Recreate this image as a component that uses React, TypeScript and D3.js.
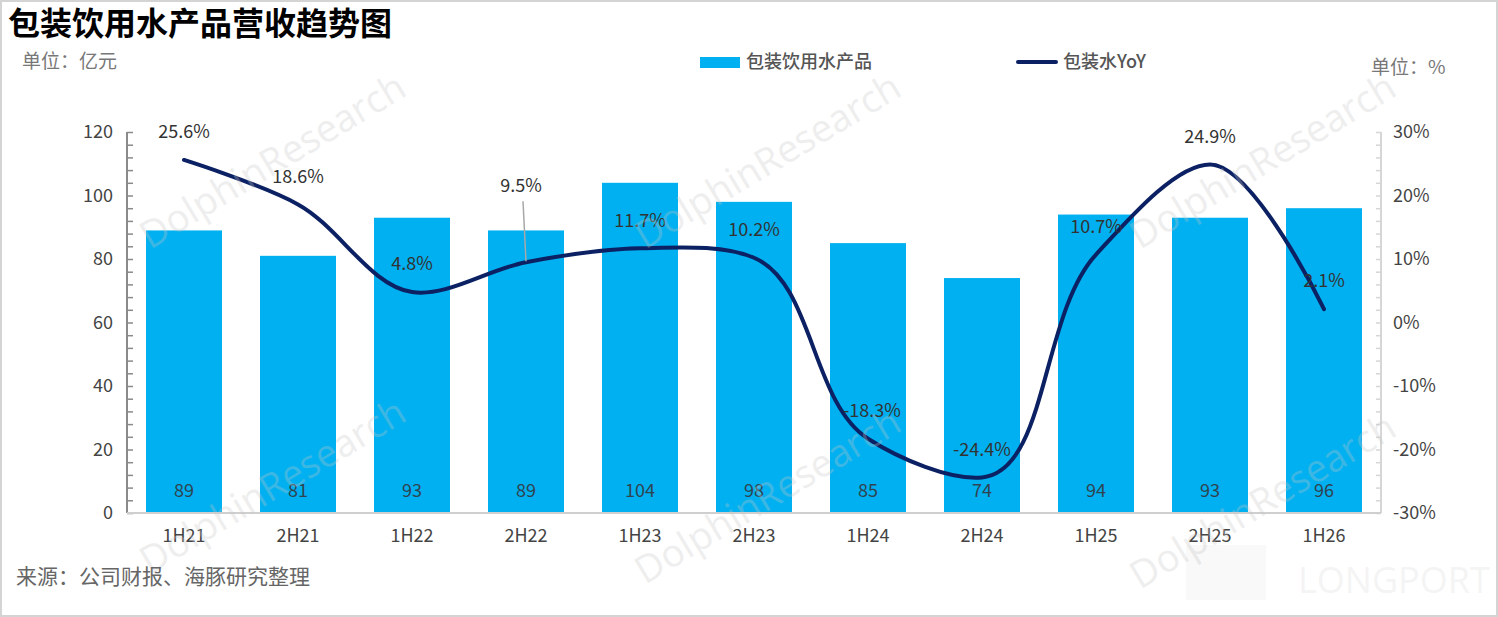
import * as d3 from "d3";
import { useEffect, useRef } from "react";

const categories = ["1H21", "2H21", "1H22", "2H22", "1H23", "2H23", "1H24", "2H24", "1H25", "2H25", "1H26"];
const revenue = [89, 81, 93, 89, 104, 98, 85, 74, 94, 93, 96];
const yoy = [25.6, 18.6, 4.8, 9.5, 11.7, 10.2, -18.3, -24.4, 10.7, 24.9, 2.1];
const leftTicks = [0, 20, 40, 60, 80, 100, 120];
const rightTicks = [-30, -20, -10, 0, 10, 20, 30];

const WIDTH = 1498;
const HEIGHT = 617;
const FONT = "'Noto Sans CJK SC', 'Noto Sans', sans-serif";
const BAR_COLOR = "#00b0f0";
const LINE_COLOR = "#0b2163";

export default function App() {
  const svgRef = useRef<SVGSVGElement>(null);

  useEffect(() => {
    if (!svgRef.current) return;
    const svg = d3.select(svgRef.current);
    svg.selectAll("*").remove();

    const margin = { top: 132, right: 117, bottom: 104, left: 127 };
    const innerWidth = WIDTH - margin.left - margin.right;
    const innerHeight = HEIGHT - margin.top - margin.bottom;

    // background + frame
    svg.append("rect").attr("x", 1).attr("y", 1).attr("width", WIDTH - 2).attr("height", HEIGHT - 2)
      .style("fill", "#fff").style("stroke", "#d4d4d4").style("stroke-width", 2);

    const g = svg.append("g").attr("transform", `translate(${margin.left},${margin.top})`);

    const x = d3.scaleBand<string>().domain(categories).range([0, innerWidth])
      .paddingInner(1 / 3).paddingOuter(1 / 6);
    const yLeft = d3.scaleLinear().domain([0, 120]).range([innerHeight, 0]);
    const yRight = d3.scaleLinear().domain([-30, 30]).range([innerHeight, 0]);

    // bars
    g.selectAll(".bar").data(revenue).enter().append("rect")
      .attr("x", (_, i) => x(categories[i])!)
      .attr("y", (d) => yLeft(d))
      .attr("width", x.bandwidth())
      .attr("height", (d) => innerHeight - yLeft(d))
      .style("fill", BAR_COLOR);

    // bar values near bottom
    g.selectAll(".bar-label").data(revenue).enter().append("text")
      .attr("x", (_, i) => x(categories[i])! + x.bandwidth() / 2)
      .attr("y", innerHeight - 22)
      .attr("dy", "0.35em")
      .attr("text-anchor", "middle")
      .style("font-family", FONT).style("font-size", "18px").style("fill", "#2f4450")
      .text((d) => d);

    // left axis
    const leftAxis = g.append("g").call(
      d3.axisRight(yLeft).tickValues(d3.range(0, 121, 4)).tickSize(6).tickFormat(() => ""),
    );
    leftAxis.select(".domain").remove();
    leftAxis.selectAll(".tick line").style("stroke", "#8a8a8a").style("stroke-width", 1.5);
    g.append("line").attr("x1", 0).attr("x2", 0).attr("y1", 0).attr("y2", innerHeight)
      .style("stroke", "#8a8a8a").style("stroke-width", 2);
    g.selectAll(".ltick").data(leftTicks).enter().append("text")
      .attr("x", -14).attr("y", (d) => yLeft(d)).attr("dy", "0.35em")
      .attr("text-anchor", "end")
      .style("font-family", FONT).style("font-size", "18px").style("fill", "#444")
      .text((d) => d);

    // right axis
    const rightAxis = g.append("g").attr("transform", `translate(${innerWidth},0)`).call(
      d3.axisLeft(yRight).tickValues(d3.range(-30, 31, 2)).tickSize(5).tickFormat(() => ""),
    );
    rightAxis.select(".domain").remove();
    rightAxis.selectAll(".tick line").style("stroke", "#d6d6d6").style("stroke-width", 1.5);
    g.append("line").attr("x1", innerWidth).attr("x2", innerWidth).attr("y1", 0).attr("y2", innerHeight)
      .style("stroke", "#d6d6d6").style("stroke-width", 2);
    g.selectAll(".rtick").data(rightTicks).enter().append("text")
      .attr("x", innerWidth + 12).attr("y", (d) => yRight(d)).attr("dy", "0.35em")
      .style("font-family", FONT).style("font-size", "18px").style("fill", "#444")
      .text((d) => `${d}%`);

    // bottom axis
    g.append("line").attr("x1", 0).attr("x2", innerWidth).attr("y1", innerHeight).attr("y2", innerHeight)
      .style("stroke", "#cfcfcf").style("stroke-width", 2);
    g.selectAll(".xlabel").data(categories).enter().append("text")
      .attr("x", (d) => x(d)! + x.bandwidth() / 2)
      .attr("y", innerHeight + 23).attr("dy", "0.35em")
      .attr("text-anchor", "middle")
      .style("font-family", FONT).style("font-size", "18px").style("fill", "#444")
      .text((d) => d);

    // YoY line (smoothed)
    const cx = (i: number) => x(categories[i])! + x.bandwidth() / 2;
    const line = d3.line<number>()
      .x((_, i) => cx(i))
      .y((d) => yRight(d))
      .curve(d3.curveCatmullRom.alpha(1));
    g.append("path").datum(yoy).attr("d", line)
      .style("fill", "none").style("stroke", LINE_COLOR).style("stroke-width", 4)
      .style("stroke-linecap", "round");

    // leader line for 9.5%
    g.append("line")
      .attr("x1", cx(3) - 3).attr("y1", yRight(yoy[3]) - 61)
      .attr("x2", cx(3)).attr("y2", yRight(yoy[3]) - 1)
      .style("stroke", "#a8a8a8").style("stroke-width", 1.5);

    // YoY labels
    g.selectAll(".yoy-label").data(yoy).enter().append("text")
      .attr("x", (_, i) => cx(i) + (i === 3 ? -5 : i === 6 ? 4 : 0))
      .attr("y", (d, i) => yRight(d) - (i === 3 ? 76 : 28))
      .attr("dy", "0.35em")
      .attr("text-anchor", "middle")
      .style("font-family", FONT).style("font-size", "18px").style("fill", "#333")
      .text((d) => `${d.toFixed(1)}%`);

    // watermarks
    const marks = [
      [150, 250], [645, 250], [1140, 250],
      [150, 575], [645, 585], [1140, 590],
    ];
    marks.forEach(([mx, my]) => {
      svg.append("text")
        .attr("transform", `translate(${mx},${my}) rotate(-31)`)
        .style("font-family", "'Open Sans', sans-serif").style("font-size", "38px")
        .style("fill", "#c8c8c8").style("opacity", 0.3)
        .text("DolphinResearch");
    });
    svg.append("rect").attr("x", 1186).attr("y", 545).attr("width", 80).attr("height", 55)
      .style("fill", "#000").style("opacity", 0.025);
    svg.append("text").attr("x", 1298).attr("y", 593)
      .style("font-family", "'Open Sans', sans-serif").style("font-size", "36px")
      .style("fill", "#000").style("opacity", 0.04)
      .text("LONGPORT");

    // title & units
    svg.append("text").attr("x", 8).attr("y", 35)
      .style("font-family", FONT).style("font-size", "32px").style("font-weight", "bold")
      .style("fill", "#000").text("包装饮用水产品营收趋势图");
    svg.append("text").attr("x", 22).attr("y", 68)
      .style("font-family", FONT).style("font-size", "19px").style("fill", "#777")
      .text("单位：亿元");
    svg.append("text").attr("x", 1371).attr("y", 74)
      .style("font-family", FONT).style("font-size", "19px").style("fill", "#777")
      .text("单位：%");
    svg.append("text").attr("x", 16).attr("y", 584)
      .style("font-family", FONT).style("font-size", "21px").style("fill", "#666")
      .text("来源：公司财报、海豚研究整理");

    // legend
    svg.append("rect").attr("x", 700).attr("y", 57).attr("width", 40).attr("height", 11)
      .style("fill", BAR_COLOR);
    svg.append("text").attr("x", 746).attr("y", 62).attr("dy", "0.35em")
      .style("font-family", FONT).style("font-size", "18px").style("font-weight", 500)
      .style("fill", "#555").text("包装饮用水产品");
    svg.append("line").attr("x1", 1018).attr("x2", 1056).attr("y1", 62).attr("y2", 62)
      .style("stroke", LINE_COLOR).style("stroke-width", 4).style("stroke-linecap", "round");
    svg.append("text").attr("x", 1063).attr("y", 62).attr("dy", "0.35em")
      .style("font-family", FONT).style("font-size", "18px").style("font-weight", 500)
      .style("fill", "#555").text("包装水YoY");
  }, []);

  return (
    <div style={{ position: "absolute", left: 0, top: 0 }}>
      <svg ref={svgRef} width={WIDTH} height={HEIGHT} style={{ display: "block" }} />
    </div>
  );
}
